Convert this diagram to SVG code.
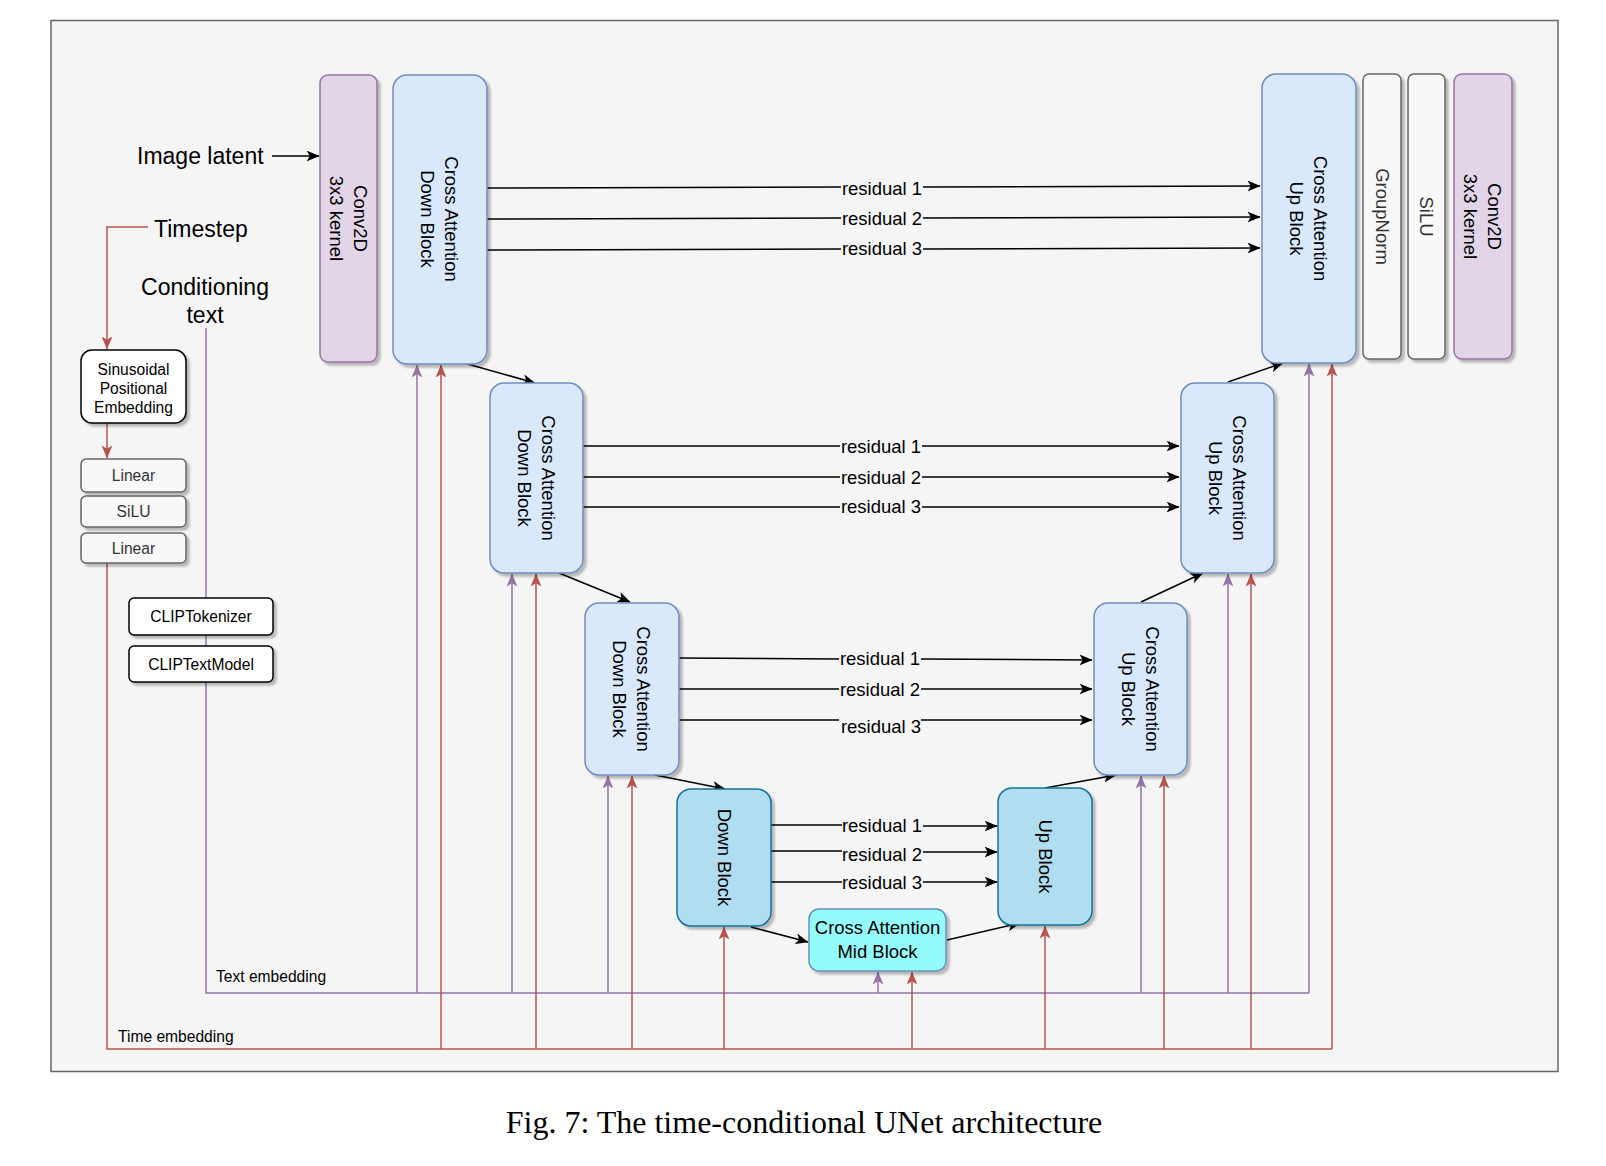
<svg xmlns="http://www.w3.org/2000/svg" width="1606" height="1166" viewBox="0 0 1606 1166">
<style>
text{font-family:"Liberation Sans",Arial,Helvetica,sans-serif;fill:#000}
.big{font-size:23px}
.blk{font-size:18.5px}
.sm{font-size:15.6px}
.gray{fill:#333}
.ca{fill:#dae8fc;stroke:#6c8ebf;stroke-width:1.5}
.cv{fill:#e1d5e7;stroke:#9673a6;stroke-width:1.5}
.db{fill:#b1ddf0;stroke:#10739e;stroke-width:1.5}
.mid{fill:#94fbfb;stroke:#6c8ebf;stroke-width:1.5}
.wb{fill:#fff;stroke:#000;stroke-width:1.5}
.gb{fill:#f8f8f8;stroke:#666;stroke-width:1.5}
.k{fill:none;stroke:#000;stroke-width:1.5}
.r{fill:none;stroke:#b85450;stroke-width:1.5}
.p{fill:none;stroke:#9673a6;stroke-width:1.5}
.cap{font-family:"Liberation Serif","Times New Roman",serif;font-size:32px}
</style>
<defs>
<filter id="sh" x="-20%" y="-20%" width="140%" height="140%">
<feDropShadow dx="3" dy="3" stdDeviation="1.2" flood-color="#000" flood-opacity="0.25"/>
</filter>
<marker id="ak" viewBox="0 0 12 10" refX="11.5" refY="5" markerWidth="13" markerHeight="11" markerUnits="userSpaceOnUse" orient="auto"><path d="M0,0 L12,5 L0,10 L3,5 Z" fill="#000"/></marker>
<marker id="ar" viewBox="0 0 12 10" refX="11.5" refY="5" markerWidth="13" markerHeight="11" markerUnits="userSpaceOnUse" orient="auto"><path d="M0,0 L12,5 L0,10 L3,5 Z" fill="#b85450"/></marker>
<marker id="ap" viewBox="0 0 12 10" refX="11.5" refY="5" markerWidth="13" markerHeight="11" markerUnits="userSpaceOnUse" orient="auto"><path d="M0,0 L12,5 L0,10 L3,5 Z" fill="#9673a6"/></marker>
</defs>
<rect width="1606" height="1166" fill="#fff"/>
<rect x="51" y="20.5" width="1507" height="1051" fill="#f5f5f5" stroke="#666" stroke-width="1.5"/>

<g id="connectors">
<path class="k" d="M272,156 L319,156" marker-end="url(#ak)"/>
<path class="r" d="M148,227 H107 V349" marker-end="url(#ar)"/>
<path class="r" d="M107,423 V458" marker-end="url(#ar)"/>
<path class="r" d="M107,563 V1049 H1332"/>
<path class="p" d="M206,328 V993 H1309"/>
<path class="p" d="M417,993 V365" marker-end="url(#ap)"/>
<path class="p" d="M512,993 V574" marker-end="url(#ap)"/>
<path class="p" d="M608,993 V776" marker-end="url(#ap)"/>
<path class="p" d="M878,993 V972" marker-end="url(#ap)"/>
<path class="p" d="M1141,993 V776" marker-end="url(#ap)"/>
<path class="p" d="M1228,993 V574" marker-end="url(#ap)"/>
<path class="p" d="M1309,993 V364" marker-end="url(#ap)"/>
<path class="r" d="M441,1049 V365" marker-end="url(#ar)"/>
<path class="r" d="M536,1049 V574" marker-end="url(#ar)"/>
<path class="r" d="M632,1049 V776" marker-end="url(#ar)"/>
<path class="r" d="M724,1049 V927" marker-end="url(#ar)"/>
<path class="r" d="M912,1049 V972" marker-end="url(#ar)"/>
<path class="r" d="M1045,1049 V926" marker-end="url(#ar)"/>
<path class="r" d="M1164,1049 V776" marker-end="url(#ar)"/>
<path class="r" d="M1251,1049 V574" marker-end="url(#ar)"/>
<path class="r" d="M1332,1049 V364" marker-end="url(#ar)"/>
<path class="k" d="M464,363 L535,383" marker-end="url(#ak)"/>
<path class="k" d="M559,573 L630,602" marker-end="url(#ak)"/>
<path class="k" d="M655,775 L725,789" marker-end="url(#ak)"/>
<path class="k" d="M751,927 L808,942" marker-end="url(#ak)"/>
<path class="k" d="M947,940 L1020,923" marker-end="url(#ak)"/>
<path class="k" d="M1045,788 L1116,775" marker-end="url(#ak)"/>
<path class="k" d="M1141,602 L1203,573" marker-end="url(#ak)"/>
<path class="k" d="M1228,382 L1283,363" marker-end="url(#ak)"/>
<path class="k" d="M487,188 L841,187 M923,187 L1260,186" marker-end="url(#ak)"/>
<path class="k" d="M487,219 L841,218 M923,218 L1260,217" marker-end="url(#ak)"/>
<path class="k" d="M487,250 L841,249 M923,249 L1260,248" marker-end="url(#ak)"/>
<path class="k" d="M583,446 L840,446 M922,446 L1179,446" marker-end="url(#ak)"/>
<path class="k" d="M583,477 L840,477 M922,477 L1179,477" marker-end="url(#ak)"/>
<path class="k" d="M583,507 L840,507 M922,507 L1179,507" marker-end="url(#ak)"/>
<path class="k" d="M679,658 L839,659 M921,659 L1092,660" marker-end="url(#ak)"/>
<path class="k" d="M679,689 L839,689 M921,689 L1092,689" marker-end="url(#ak)"/>
<path class="k" d="M679,720 L839,720 M921,720 L1092,720" marker-end="url(#ak)"/>
<path class="k" d="M771,825 L842,825 M923,826 L997,826" marker-end="url(#ak)"/>
<path class="k" d="M771,851 L842,851 M923,852 L997,852" marker-end="url(#ak)"/>
<path class="k" d="M771,882 L842,882 M923,882 L997,882" marker-end="url(#ak)"/>
</g>

<g id="labels" class="blk" text-anchor="middle" dominant-baseline="central">
<text x="882" y="188">residual 1</text>
<text x="882" y="218">residual 2</text>
<text x="882" y="248">residual 3</text>
<text x="881" y="446">residual 1</text>
<text x="881" y="477">residual 2</text>
<text x="881" y="506">residual 3</text>
<text x="880" y="658">residual 1</text>
<text x="880" y="689">residual 2</text>
<text x="881" y="726">residual 3</text>
<text x="882" y="825">residual 1</text>
<text x="882" y="854">residual 2</text>
<text x="882" y="882">residual 3</text>
</g>
<text class="sm" x="216" y="982">Text embedding</text>
<text class="sm" x="118" y="1042">Time embedding</text>

<g id="image-latent"><text class="big" x="137" y="164">Image latent</text></g>
<g id="timestep"><text class="big" x="154" y="237">Timestep</text></g>
<g id="conditioning-text"><text class="big" text-anchor="middle" x="205" y="295">Conditioning</text><text class="big" text-anchor="middle" x="205" y="323">text</text></g>

<g id="sinusoidal"><rect class="wb" filter="url(#sh)" x="81" y="350" width="105" height="73" rx="11"/>
<text class="sm" text-anchor="middle" x="133.5" y="375">Sinusoidal</text><text class="sm" text-anchor="middle" x="133.5" y="394">Positional</text><text class="sm" text-anchor="middle" x="133.5" y="413">Embedding</text></g>
<g id="linear1"><rect class="gb" filter="url(#sh)" x="81" y="459" width="105" height="33" rx="5"/><text class="sm gray" text-anchor="middle" dominant-baseline="central" x="133.5" y="475.5">Linear</text></g>
<g id="silu-left"><rect class="gb" filter="url(#sh)" x="81" y="496" width="105" height="31" rx="5"/><text class="sm gray" text-anchor="middle" dominant-baseline="central" x="133.5" y="511.5">SiLU</text></g>
<g id="linear2"><rect class="gb" filter="url(#sh)" x="81" y="533" width="105" height="30" rx="5"/><text class="sm gray" text-anchor="middle" dominant-baseline="central" x="133.5" y="548">Linear</text></g>
<g id="cliptokenizer"><rect class="wb" filter="url(#sh)" x="129" y="598" width="144" height="37" rx="5"/><text class="sm" text-anchor="middle" dominant-baseline="central" x="201" y="616.5">CLIPTokenizer</text></g>
<g id="cliptextmodel"><rect class="wb" filter="url(#sh)" x="129" y="646" width="144" height="36" rx="5"/><text class="sm" text-anchor="middle" dominant-baseline="central" x="201" y="664">CLIPTextModel</text></g>

<g id="conv-in"><rect class="cv" filter="url(#sh)" x="320" y="75" width="57" height="287" rx="8"/>
<text class="blk" text-anchor="middle" dominant-baseline="central" transform="rotate(90 348.5 218.5)"><tspan x="348.5" y="206.5">Conv2D</tspan><tspan x="348.5" y="230.5">3x3 kernel</tspan></text></g>
<g id="ca-down1"><rect class="ca" filter="url(#sh)" x="393" y="75" width="94" height="289" rx="14"/>
<text class="blk" text-anchor="middle" dominant-baseline="central" transform="rotate(90 440 219)"><tspan x="440" y="207">Cross Attention</tspan><tspan x="440" y="231">Down Block</tspan></text></g>
<g id="ca-down2"><rect class="ca" filter="url(#sh)" x="490" y="383" width="93" height="190" rx="14"/>
<text class="blk" text-anchor="middle" dominant-baseline="central" transform="rotate(90 536.5 478)"><tspan x="536.5" y="466">Cross Attention</tspan><tspan x="536.5" y="490">Down Block</tspan></text></g>
<g id="ca-down3"><rect class="ca" filter="url(#sh)" x="585" y="603" width="94" height="172" rx="14"/>
<text class="blk" text-anchor="middle" dominant-baseline="central" transform="rotate(90 632 689)"><tspan x="632" y="677">Cross Attention</tspan><tspan x="632" y="701">Down Block</tspan></text></g>
<g id="down-block"><rect class="db" filter="url(#sh)" x="677" y="789" width="94" height="137" rx="14"/>
<text class="blk" text-anchor="middle" dominant-baseline="central" transform="rotate(90 724 857.5)" x="724" y="857.5">Down Block</text></g>
<g id="mid-block"><rect class="mid" filter="url(#sh)" x="809" y="909" width="137" height="62" rx="10"/>
<text class="blk" text-anchor="middle" x="877.5" y="934">Cross Attention</text><text class="blk" text-anchor="middle" x="877.5" y="958">Mid Block</text></g>
<g id="up-block"><rect class="db" filter="url(#sh)" x="998" y="788" width="94" height="137" rx="14"/>
<text class="blk" text-anchor="middle" dominant-baseline="central" transform="rotate(90 1045 856.5)" x="1045" y="856.5">Up Block</text></g>
<g id="ca-up3"><rect class="ca" filter="url(#sh)" x="1094" y="603" width="93" height="172" rx="14"/>
<text class="blk" text-anchor="middle" dominant-baseline="central" transform="rotate(90 1140.5 689)"><tspan x="1140.5" y="677">Cross Attention</tspan><tspan x="1140.5" y="701">Up Block</tspan></text></g>
<g id="ca-up2"><rect class="ca" filter="url(#sh)" x="1181" y="383" width="93" height="190" rx="14"/>
<text class="blk" text-anchor="middle" dominant-baseline="central" transform="rotate(90 1227.5 478)"><tspan x="1227.5" y="466">Cross Attention</tspan><tspan x="1227.5" y="490">Up Block</tspan></text></g>
<g id="ca-up1"><rect class="ca" filter="url(#sh)" x="1262" y="74" width="94" height="289" rx="14"/>
<text class="blk" text-anchor="middle" dominant-baseline="central" transform="rotate(90 1309 218.5)"><tspan x="1309" y="206.5">Cross Attention</tspan><tspan x="1309" y="230.5">Up Block</tspan></text></g>
<g id="groupnorm"><rect class="gb" filter="url(#sh)" x="1363" y="74" width="38" height="285" rx="6"/>
<text class="blk gray" text-anchor="middle" dominant-baseline="central" transform="rotate(90 1382 216.5)" x="1382" y="216.5">GroupNorm</text></g>
<g id="silu-right"><rect class="gb" filter="url(#sh)" x="1408" y="74" width="37" height="285" rx="6"/>
<text class="blk gray" text-anchor="middle" dominant-baseline="central" transform="rotate(90 1426.5 216.5)" x="1426.5" y="216.5">SiLU</text></g>
<g id="conv-out"><rect class="cv" filter="url(#sh)" x="1454" y="74" width="58" height="285" rx="8"/>
<text class="blk" text-anchor="middle" dominant-baseline="central" transform="rotate(90 1483 216.5)"><tspan x="1483" y="204.5">Conv2D</tspan><tspan x="1483" y="228.5">3x3 kernel</tspan></text></g>

<text class="cap" text-anchor="middle" x="804" y="1133">Fig. 7: The time-conditional UNet architecture</text>
</svg>
